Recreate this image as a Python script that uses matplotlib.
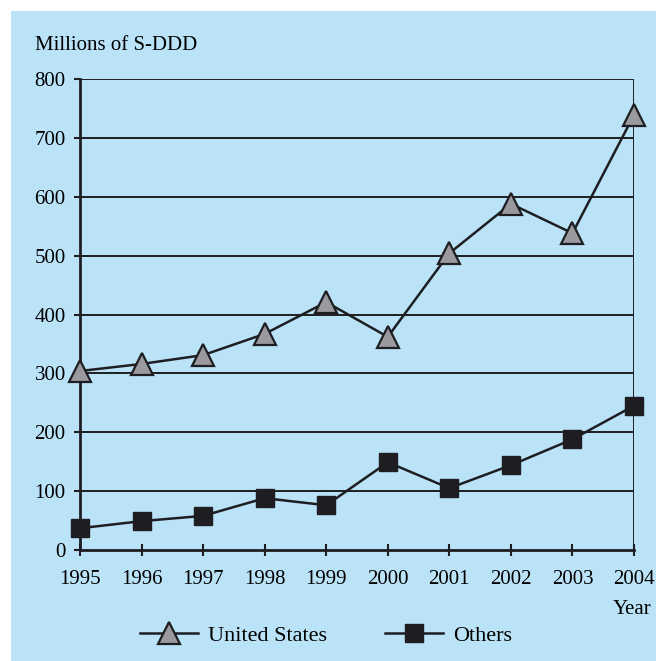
import matplotlib
matplotlib.use("Agg")
import matplotlib.pyplot as plt
from matplotlib.lines import Line2D

years = [1995, 1996, 1997, 1998, 1999, 2000, 2001, 2002, 2003, 2004]
united_states = [304, 316, 331, 367, 421, 362, 504, 588, 538, 739]
others = [37, 49, 58, 88, 76, 149, 105, 144, 188, 245]
y_ticks = [0, 100, 200, 300, 400, 500, 600, 700, 800]

BG = "#bbe3f8"
DARK = "#1e1e22"
plt.rcParams["font.family"] = ["Liberation Serif", "DejaVu Serif"]
FS = 15

W, H = 656, 661
fig = plt.figure(figsize=(W / 100, H / 100), dpi=100)
fig.patch.set_facecolor("white")
fig.patches.append(plt.Rectangle((11 / W, 0), 1 - 11 / W, 1 - 11 / H,
                                 transform=fig.transFigure, facecolor=BG,
                                 edgecolor="none", zorder=-10))

ax = fig.add_axes([80 / W, (H - 550) / H, (634 - 80) / W, (550 - 79) / H])
ax.set_facecolor(BG)
ax.set_xlim(1995, 2004)
ax.set_ylim(0, 800)

for v in y_ticks[1:]:
    ax.axhline(v, color=DARK, lw=1.4, zorder=1)
ax.axvline(2004, color=DARK, lw=1.4, zorder=1)

ax.plot(years, united_states, color=DARK, lw=1.8, marker="^", markersize=16,
        markerfacecolor="#9a9a9e", markeredgecolor=DARK, markeredgewidth=1.6,
        zorder=4, clip_on=False)
ax.plot(years, others, color=DARK, lw=1.8, marker="s", markersize=12.5,
        markerfacecolor=DARK, markeredgecolor=DARK, zorder=4, clip_on=False)

for s in ["top", "right"]:
    ax.spines[s].set_visible(False)
for s in ["left", "bottom"]:
    ax.spines[s].set_color(DARK)
    ax.spines[s].set_linewidth(2.0)

ax.set_xticks(years)
ax.set_xticklabels([str(y) for y in years])
ax.set_yticks(y_ticks)
ax.set_yticklabels([str(v) for v in y_ticks])
ax.tick_params(axis="x", direction="inout", length=9, width=1.5, color=DARK,
               labelsize=FS, pad=10, labelcolor="black")
ax.tick_params(axis="y", direction="out", length=4.3, width=1.5, color=DARK,
               labelsize=FS, pad=6, labelcolor="black")

fig.text(35 / W, 1 - 46 / H, "Millions of S-DDD", fontsize=FS,
         ha="left", va="center")
fig.text(632 / W, 1 - 609 / H, "Year", fontsize=FS, ha="center", va="center")

h1 = Line2D([], [], color=DARK, lw=1.8, marker="^", markersize=16,
            markerfacecolor="#9a9a9e", markeredgecolor=DARK, markeredgewidth=1.6)
h2 = Line2D([], [], color=DARK, lw=1.8, marker="s", markersize=12.5,
            markerfacecolor=DARK, markeredgecolor=DARK)
fig.legend([h1, h2], ["United States", "Others"], ncol=2,
           loc="center", bbox_to_anchor=(326 / W, 1 - 636 / H),
           frameon=False, prop={"size": 16}, handlelength=2.6,
           columnspacing=2.6, handletextpad=0.45)

fig.savefig("out.png", dpi=100, facecolor="white")
